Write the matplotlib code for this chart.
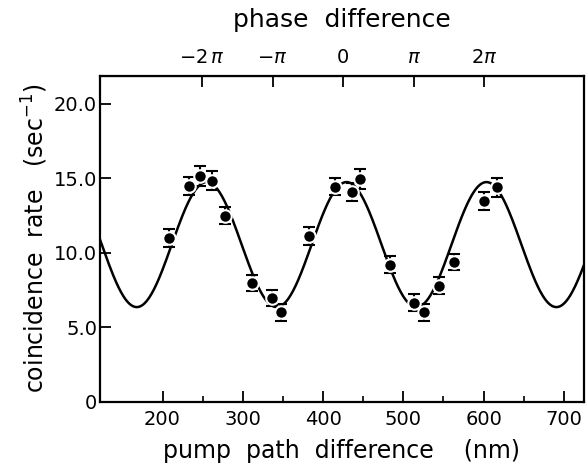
import matplotlib
matplotlib.use("Agg")
import matplotlib.pyplot as plt
import numpy as np

# measured coincidence rates
PATH_NM = [208, 233, 247, 261, 278, 312, 336, 348, 382, 415,
           436, 446, 483, 513, 526, 545, 563, 600, 617]
RATE = [11.0, 14.5, 15.15, 14.85, 12.5, 7.95, 6.95, 6.0, 11.1, 14.45,
        14.1, 14.95, 9.2, 6.65, 6.0, 7.8, 9.4, 13.45, 14.4]
RATE_ERR = [0.6, 0.6, 0.65, 0.65, 0.6, 0.55, 0.55, 0.55, 0.6, 0.6,
            0.6, 0.65, 0.55, 0.55, 0.55, 0.6, 0.55, 0.6, 0.65]

# fitted interference curve
FIT_MEAN = 10.55
FIT_AMP = 4.2
FIT_PERIOD_NM = 174.3
FIT_PEAK_NM = 255.0

# phase axis (top)
PHASE_ZERO_NM = 425.0
PHASE_PI_NM = 88.0
PHASE_TICKS = [-2, -1, 0, 1, 2]
PHASE_LABELS = [r"$-2\,\pi$", r"$-\pi$", "0", r"$\pi$", r"$2\pi$"]

X_TICKS = [200, 300, 400, 500, 600, 700]
Y_TICKS = [0, 5, 10, 15, 20]
Y_LABELS = ["0", "5.0", "10.0", "15.0", "20.0"]

plt.rcParams["font.family"] = ["DejaVu Sans"]

fig = plt.figure(figsize=(5.88, 4.67), dpi=100)
ax = fig.add_axes([0.170, 0.140, 0.823, 0.698])

x_fit = np.linspace(122, 725, 600)
y_fit = FIT_MEAN + FIT_AMP * np.cos(2 * np.pi * (x_fit - FIT_PEAK_NM) / FIT_PERIOD_NM)
ax.plot(x_fit, y_fit, color="black", lw=1.8, zorder=1)

ax.errorbar(PATH_NM, RATE, yerr=RATE_ERR, fmt="o", color="black", ms=9,
            mec="white", mew=1.5, ecolor="black", elinewidth=1.5,
            capsize=4, capthick=1.5, zorder=3)

ax.set_xlim(122, 725)
ax.set_ylim(0, 21.9)
ax.set_xticks(X_TICKS)
ax.set_xticks(np.arange(250, 701, 100), minor=True)
ax.set_yticks(Y_TICKS)
ax.set_yticklabels(Y_LABELS)
ax.tick_params(axis="x", which="major", direction="in", length=8, width=1.3,
               labelsize=14, pad=6, top=False)
ax.tick_params(axis="x", which="minor", direction="in", length=4, width=1.2, top=False)
ax.tick_params(axis="y", direction="in", length=8, width=1.3, labelsize=14,
               pad=2, right=False)
for s in ax.spines.values():
    s.set_linewidth(1.6)

ax.set_xlabel("pump  path  difference    (nm)", fontsize=17, labelpad=7)
ax.set_ylabel(r"coincidence  rate   (sec$^{-1}$)", fontsize=17, labelpad=3)

top = ax.secondary_xaxis(
    "top",
    functions=(lambda x: (x - PHASE_ZERO_NM) / PHASE_PI_NM,
               lambda p: p * PHASE_PI_NM + PHASE_ZERO_NM),
)
top.set_xticks(PHASE_TICKS)
top.set_xticklabels(PHASE_LABELS)
top.tick_params(direction="in", length=8, width=1.3, labelsize=14, pad=6)
top.set_xlabel("phase  difference", fontsize=18, labelpad=15)

fig.savefig("out.png", dpi=100)
